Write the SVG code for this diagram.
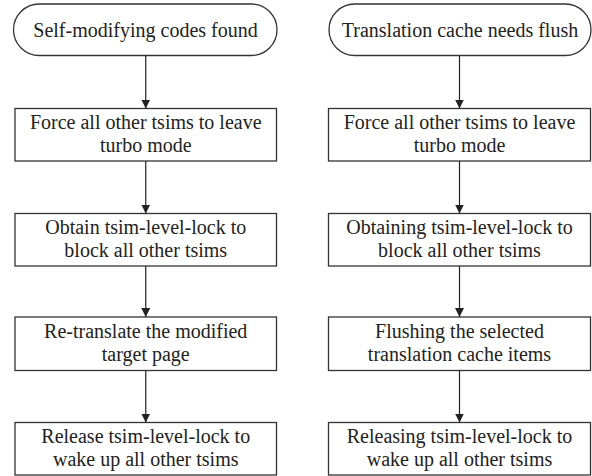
<svg xmlns="http://www.w3.org/2000/svg" width="592" height="476" viewBox="0 0 592 476">
  <defs>
    <marker id="arrow" viewBox="0 0 10 10" refX="10" refY="5" markerWidth="9" markerHeight="9" markerUnits="userSpaceOnUse" orient="auto">
      <path d="M0,0 L10,5 L0,10 Z" fill="#222"/>
    </marker>
  </defs>
  <style>
    .shape { fill: #fff; stroke: #333; stroke-width: 1.3; }
    .label { font-family: "Liberation Serif", "Times New Roman", serif; font-size: 20px; fill: #222; text-anchor: middle; }
    .conn { stroke: #222; stroke-width: 1.2; fill: none; marker-end: url(#arrow); }
  </style>
  <rect width="592" height="476" fill="#fff"/>

  <!-- left flow -->
  <g id="start-smc">
    <rect class="shape" x="13.5" y="4" width="263.5" height="51.5" rx="25.75"/>
    <text class="label" x="145.5" y="36.5">Self-modifying codes found</text>
  </g>
  <g id="smc-leave-turbo">
    <rect class="shape" x="15" y="108.5" width="261.5" height="52.5"/>
    <text class="label" x="145.75" y="129">Force all other tsims to leave</text>
    <text class="label" x="145.75" y="152">turbo mode</text>
  </g>
  <g id="smc-obtain-lock">
    <rect class="shape" x="15" y="213.5" width="261.5" height="52.5"/>
    <text class="label" x="145.75" y="234">Obtain tsim-level-lock to</text>
    <text class="label" x="145.75" y="257">block all other tsims</text>
  </g>
  <g id="smc-retranslate">
    <rect class="shape" x="15" y="317" width="261.5" height="53.5"/>
    <text class="label" x="145.75" y="338">Re-translate the modified</text>
    <text class="label" x="145.75" y="361">target page</text>
  </g>
  <g id="smc-release-lock">
    <rect class="shape" x="15" y="422.5" width="261.5" height="52.5"/>
    <text class="label" x="145.75" y="443">Release tsim-level-lock to</text>
    <text class="label" x="145.75" y="466">wake up all other tsims</text>
  </g>

  <!-- right flow -->
  <g id="start-flush">
    <rect class="shape" x="329" y="4" width="262" height="51.5" rx="25.75"/>
    <text class="label" x="460" y="36.5">Translation cache needs flush</text>
  </g>
  <g id="flush-leave-turbo">
    <rect class="shape" x="328.5" y="108.5" width="262" height="52.5"/>
    <text class="label" x="459.5" y="129">Force all other tsims to leave</text>
    <text class="label" x="459.5" y="152">turbo mode</text>
  </g>
  <g id="flush-obtain-lock">
    <rect class="shape" x="328.5" y="213.5" width="262" height="52.5"/>
    <text class="label" x="459.5" y="234">Obtaining tsim-level-lock to</text>
    <text class="label" x="459.5" y="257">block all other tsims</text>
  </g>
  <g id="flush-items">
    <rect class="shape" x="328.5" y="317" width="262" height="53.5"/>
    <text class="label" x="459.5" y="338">Flushing the selected</text>
    <text class="label" x="459.5" y="361">translation cache items</text>
  </g>
  <g id="flush-release-lock">
    <rect class="shape" x="328.5" y="422.5" width="262" height="52.5"/>
    <text class="label" x="459.5" y="443">Releasing tsim-level-lock to</text>
    <text class="label" x="459.5" y="466">wake up all other tsims</text>
  </g>

  <g id="connectors">
    <line class="conn" x1="145.75" y1="55.5" x2="145.75" y2="108.5"/>
    <line class="conn" x1="145.75" y1="161" x2="145.75" y2="213.5"/>
    <line class="conn" x1="145.75" y1="266" x2="145.75" y2="317"/>
    <line class="conn" x1="145.75" y1="370.5" x2="145.75" y2="422.5"/>
    <line class="conn" x1="459.5" y1="55.5" x2="459.5" y2="108.5"/>
    <line class="conn" x1="459.5" y1="161" x2="459.5" y2="213.5"/>
    <line class="conn" x1="459.5" y1="266" x2="459.5" y2="317"/>
    <line class="conn" x1="459.5" y1="370.5" x2="459.5" y2="422.5"/>
  </g>
</svg>
